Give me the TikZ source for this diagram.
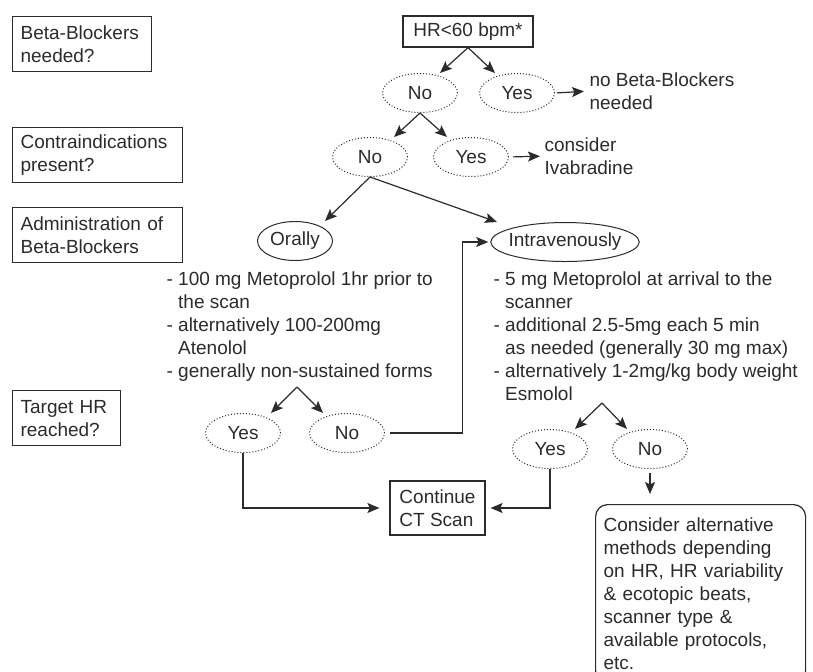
\documentclass[tikz,border=0pt]{standalone}
\usepackage{fontspec}
\setmainfont{Liberation Sans}
\usetikzlibrary{shapes.geometric, arrows.meta}
\definecolor{ink}{HTML}{2B2B2B}
\newcommand{\ind}{\hphantom{-}\ }

\begin{document}
\begin{tikzpicture}[x=0.5pt,y=-0.5pt,
    font=\fontsize{9.5}{11.5}\selectfont, color=ink, line width=0.6pt,
    >={Stealth[length=6pt,width=5pt,inset=1.2pt]},
    qbox/.style={draw, align=left, anchor=north west, inner xsep=4pt, inner ysep=0pt, minimum height=27.5pt},
    box/.style={draw, align=left, inner xsep=4pt, inner ysep=0pt},
    oval/.style={ellipse, draw, line width=0.5pt, inner xsep=-2pt, inner ysep=0pt, minimum width=37.5pt, minimum height=19.5pt},
    dotoval/.style={oval, densely dotted},
    txt/.style={inner sep=0pt, align=left, anchor=north west}]
    \useasboundingbox (0,0) rectangle (813,671);

    \node[qbox, text width=61.5pt] (bbq) at (12,16) {Beta-Blockers\\needed?};
    \node[qbox, text width=77pt] (ciq) at (12,127) {Contraindications\\present?};
    \node[qbox, text width=77pt] (abq) at (12,207) {Administration of\\Beta-Blockers};
    \node[qbox, text width=46pt] (thq) at (12,390) {Target HR\\reached?};

    \node[box, minimum width=65pt, minimum height=15.5pt, align=center] (hr) at (468,31.5) {HR<60 bpm*};
    \node[dotoval] (tno) at (420,93) {No};
    \node[dotoval] (tyes) at (517,93) {Yes};
    \node[txt] (nobb) at (589,72) {no Beta-Blockers\\needed};
    \node[dotoval] (mno) at (370,157) {No};
    \node[dotoval] (myes) at (471,157) {Yes};
    \node[txt] (ivab) at (544,137) {consider\\Ivabradine};

    \node[oval] (orally) at (295,241) {Orally};
    \node[oval] (iv) at (565,242) {Intravenously};
    \node[txt] (orlist) at (166,271) {- 100 mg Metoprolol 1hr prior to\\\ind the scan\\- alternatively 100-200mg\\\ind Atenolol\\- generally non-sustained forms};
    \node[txt] (ivlist) at (493,271) {- 5 mg Metoprolol at arrival to the\\\ind scanner\\- additional 2.5-5mg each 5 min\\\ind as needed (generally 30 mg max)\\- alternatively 1-2mg/kg body weight\\\ind Esmolol};

    \node[dotoval] (oyes) at (243,433) {Yes};
    \node[dotoval] (ono) at (347,433) {No};
    \node[dotoval] (iyes) at (550,449) {Yes};
    \node[dotoval] (ino) at (650,449) {No};
    \node[box, minimum width=47.5pt, minimum height=27pt] (cont) at (437.5,508) {Continue\\CT Scan};
    \node[box, anchor=north west, text width=97pt, inner ysep=6.5pt, rounded corners=6pt] (cons) at (595,504)
        {Consider alternative\\methods depending\\on HR, HR variability\\\& ecotopic beats,\\scanner type \&\\available protocols,\\etc.};

    \coordinate (osplit) at (297,387);
    \coordinate (isplit) at (602,403);

    \draw[->] (hr.south) -- ([xshift=10pt]tno.north);
    \draw[->] (hr.south) -- ([xshift=-11pt]tyes.north);
    \draw[->, shorten <=1pt, shorten >=2.5pt] (tyes.east) -- (nobb.west);
    \draw[->] (tno.south) -- ([xshift=12pt]mno.north);
    \draw[->] (tno.south) -- ([xshift=-12pt]myes.north);
    \draw[->, shorten <=2pt, shorten >=2pt] (myes.east) -- (ivab.west);
    \draw[->] (mno.south) -- ([xshift=15pt]orally.north);
    \draw[->] (mno.south) -- ([xshift=-34pt]iv.north);

    \draw[->] (osplit) -- ([xshift=14pt]oyes.north);
    \draw[->] (osplit) -- ([xshift=-12pt]ono.north);
    \draw[->] (isplit) -- ([xshift=12.5pt]iyes.north);
    \draw[->] (isplit) -- ([xshift=-11.5pt]ino.north);

    \draw[->, shorten <=2.5pt, shorten >=1pt] (ono.east) -| ([xshift=-14pt]iv.west) -- (iv.west);
    \draw[->, shorten >=5pt] (oyes.south) |- (cont.west);
    \draw[->, shorten >=2.5pt] (iyes.south) |- (cont.east);
    \draw[->, shorten <=2pt, shorten >=5pt] (ino.south) -- (ino.south |- cons.north);
\end{tikzpicture}
\end{document}
